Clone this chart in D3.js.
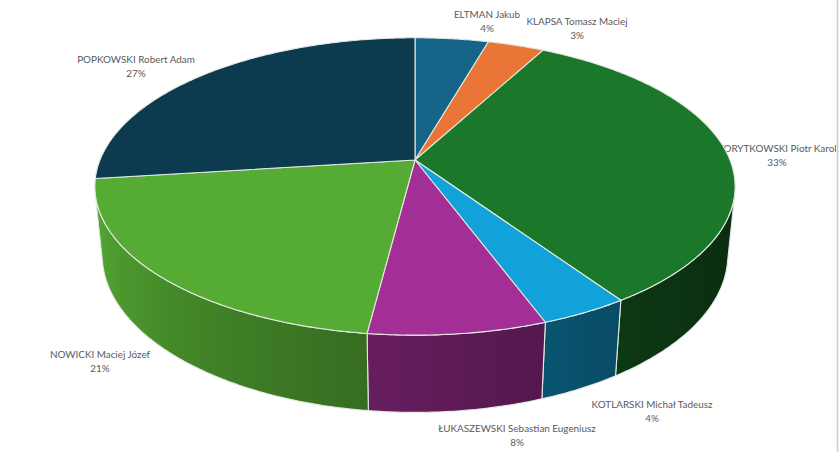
<!DOCTYPE html>
<html>
<head>
<meta charset="utf-8">
<script src="https://cdn.jsdelivr.net/npm/d3@7"></script>
<style>
  html, body { margin: 0; padding: 0; background: #ffffff; }
  svg { display: block; }
  text { font-family: Lato, "Open Sans", "Liberation Sans", sans-serif; }
</style>
</head>
<body>
<svg id="chart" width="840" height="452"></svg>
<script>
// ---------- data ----------
const names = [
  "ELTMAN Jakub",
  "KLAPSA Tomasz Maciej",
  "KORYTKOWSKI Piotr Karol",
  "KOTLARSKI Michał Tadeusz",
  "ŁUKASZEWSKI Sebastian Eugeniusz",
  "NOWICKI Maciej Józef",
  "POPKOWSKI Robert Adam"
];
const values = [4.4, 3.4, 32.8, 3.8, 7.6, 21.0, 27.0];

// ---------- styles / layout ----------
const topColors = ["#166488", "#E97636", "#1B782A", "#10A2D8", "#A22E96", "#55AB33", "#0C3A4F"];
// label centres (Excel "best fit" placement)
const labelLayout = [
  [487, 18], [577, 25], [777, 152], [652, 408], [517, 432], [100, 358], [136, 63]
];

const W = 840, H = 452;
const svg = d3.select("#chart");
svg.append("rect").attr("width", W).attr("height", H).attr("fill", "#ffffff");
const gLabels = svg.append("g");

// perspective camera for the 3D pie
const cx = 415, cy = 160, f = 1575, D = 5.0;
const alpha = 27.2 * Math.PI / 180;
const thick = 0.247;
const sa = Math.sin(alpha), ca = Math.cos(alpha);

function proj(theta, y, r = 1) {
  const u = r * Math.sin(theta), v = -r * Math.cos(theta);
  const depth = D - (y * sa + v * ca);
  const up = y * ca - v * sa;
  return [cx + f * u / depth, cy - f * up / depth];
}

const pie = d3.pie().sort(null).value(d => d);
const arcs = pie(values);
const total = d3.sum(values);
const fmtPct = d3.format(".0%");

const line = d3.line();
const sampleAngles = (a0, a1) => {
  const n = Math.max(2, Math.ceil((a1 - a0) / 0.01));
  return d3.range(n + 1).map(i => a0 + (a1 - a0) * i / n);
};

// visible outer wall range
const thA = Math.acos(-1 / (D * ca));
const thB = 2 * Math.PI - thA;

// wall shading (light from the left)
const shade = d3.scaleLinear().domain([0, 1]).range([0.36, 1.0]).clamp(true);
function lightFactor(theta) {
  const t = (theta - thA) / (thB - thA);
  return shade(Math.pow(Math.max(0, t), 1.4));
}
function scaleColor(hex, k) {
  const c = d3.rgb(hex);
  return d3.rgb(c.r * k, c.g * k, c.b * k).formatHex();
}

const defs = svg.append("defs");
const gWalls = svg.append("g");
const gTops = svg.append("g");

const edge = "#e3e9e3";

arcs.forEach((a, i) => {
  const a0 = Math.max(a.startAngle, thA);
  const a1 = Math.min(a.endAngle, thB);
  if (a0 < a1) {
    const angs = sampleAngles(a0, a1);
    const topPts = angs.map(th => proj(th, 0));
    const botPts = angs.slice().reverse().map(th => proj(th, -thick));
    const xs = topPts.concat(botPts).map(p => p[0]);
    const x0 = d3.min(xs), x1 = d3.max(xs);
    const gid = "wall" + i;
    const grad = defs.append("linearGradient")
      .attr("id", gid).attr("gradientUnits", "userSpaceOnUse")
      .attr("x1", x0).attr("x2", x1).attr("y1", 0).attr("y2", 0);
    const stops = angs.filter((_, k, arr) => k % Math.max(1, Math.floor(arr.length / 12)) === 0 || k === arr.length - 1);
    stops.map(th => ({ x: proj(th, 0)[0], th }))
      .sort((p, q) => p.x - q.x)
      .forEach(s => {
        grad.append("stop")
          .attr("offset", x1 > x0 ? (s.x - x0) / (x1 - x0) : 0)
          .attr("stop-color", scaleColor(topColors[i], lightFactor(s.th)));
      });
    gWalls.append("path")
      .attr("d", line(topPts.concat(botPts)) + "Z")
      .attr("fill", `url(#${gid})`)
      .attr("stroke", edge).attr("stroke-width", 1.1)
      .attr("stroke-linejoin", "round");
  }
});

arcs.forEach((a, i) => {
  const pts = [proj(0, 0, 0)].concat(sampleAngles(a.startAngle, a.endAngle).map(th => proj(th, 0)));
  gTops.append("path")
    .attr("d", line(pts) + "Z")
    .attr("fill", topColors[i])
    .attr("stroke", edge).attr("stroke-width", 1.1)
    .attr("stroke-linejoin", "round");
});

// labels
arcs.forEach((a, i) => {
  const [lx, ly] = labelLayout[i];
  const t = gLabels.append("text")
    .attr("x", lx).attr("y", ly)
    .attr("text-anchor", "middle")
    .attr("font-size", 9.9)
    .attr("fill", "#595959");
  t.append("tspan").attr("x", lx).attr("dy", 0).text(names[i]);
  t.append("tspan").attr("x", lx).attr("dy", 14).text(fmtPct(values[i] / total));
});

// window frame line on the right edge
svg.append("line")
  .attr("x1", 837.5).attr("x2", 837.5).attr("y1", 0).attr("y2", H)
  .attr("stroke", "#c2cfdc").attr("stroke-width", 1.5);
</script>
</body>
</html>
